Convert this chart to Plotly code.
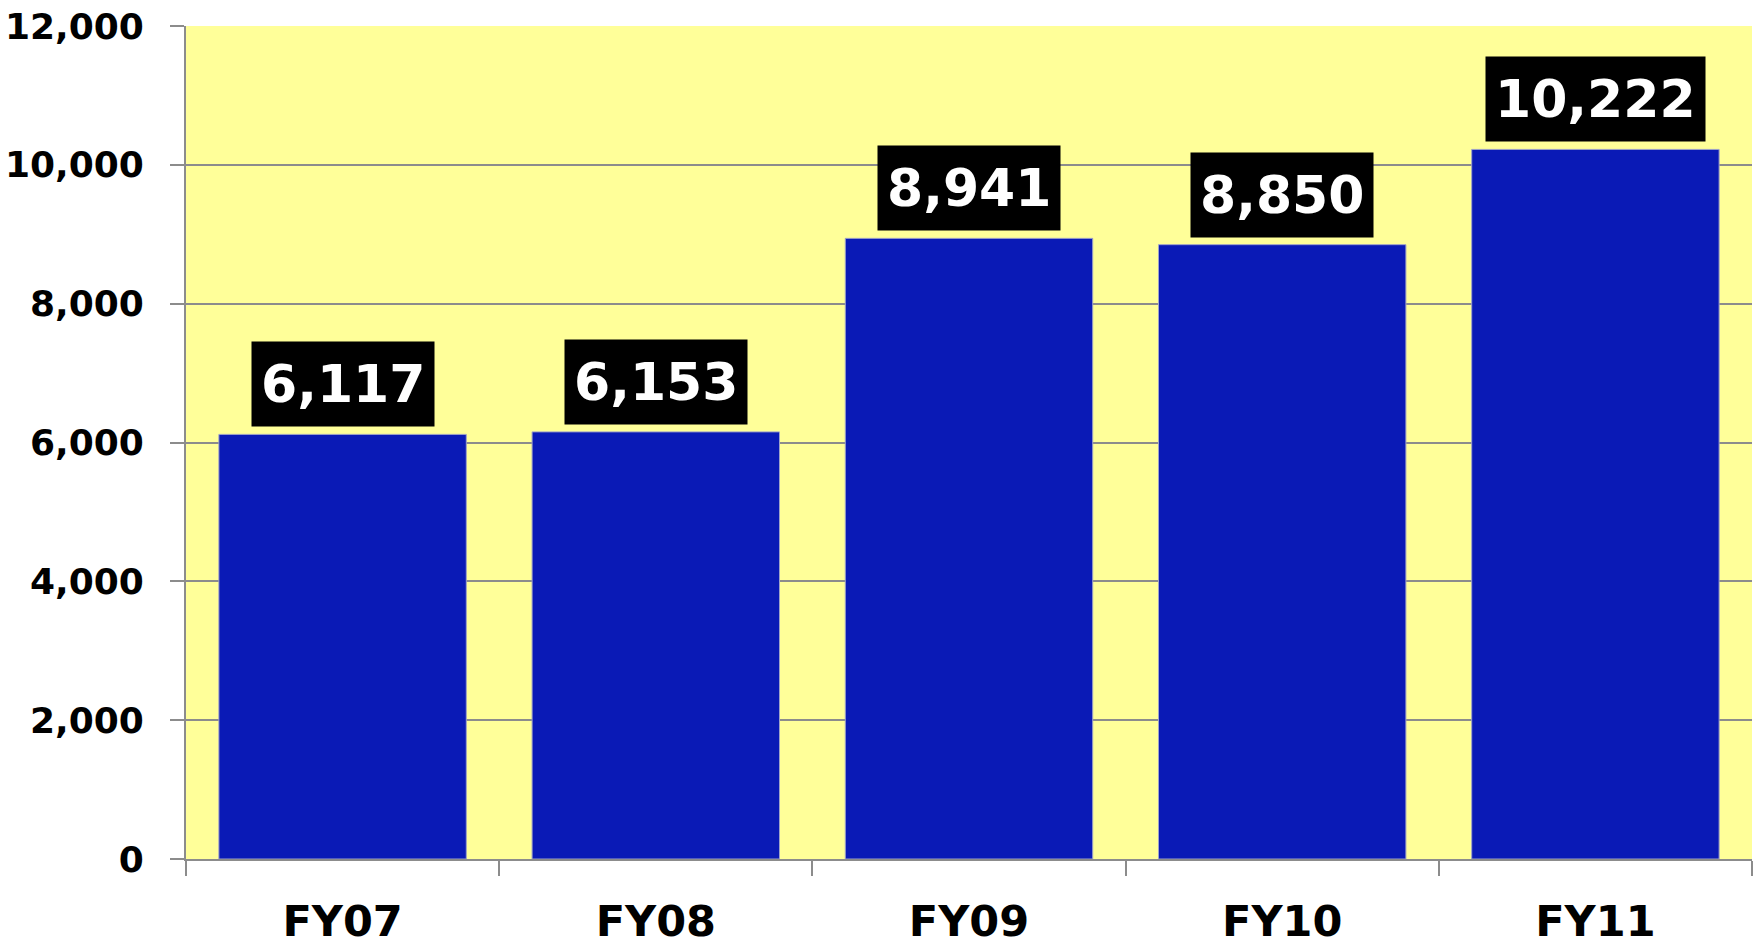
import plotly.graph_objects as go

categories = ["FY07", "FY08", "FY09", "FY10", "FY11"]
values = [6117, 6153, 8941, 8850, 10222]
y_ticks = [0, 2000, 4000, 6000, 8000, 10000, 12000]
y_tick_labels = ["0", "2,000", "4,000", "6,000", "8,000", "10,000", "12,000"]

FONT = "DejaVu Sans"

fig = go.Figure()
fig.add_trace(go.Bar(
    x=categories, y=values,
    marker=dict(color="#0A1AB6", line=dict(color="#9fa3c8", width=1)),
    hoverinfo="x+y",
))

for c, v in zip(categories, values):
    fig.add_annotation(
        x=c, y=v, xref="x", yref="y",
        text=f"<b>{v:,}</b>",
        showarrow=False, yanchor="bottom", xanchor="center",
        yshift=7, bgcolor="#000000", borderpad=9, height=66,
        font=dict(family=FONT, size=52, color="white"),
    )

fig.update_layout(
    width=1753, height=935,
    margin=dict(l=178, r=9, t=18, b=84, autoexpand=False),
    paper_bgcolor="white",
    plot_bgcolor="#FFFF99",
    bargap=0.21,
    showlegend=False,
    font=dict(family=FONT, color="black"),
)
fig.update_xaxes(
    type="category", automargin=False,
    showline=True, linecolor="#8c8c8c", linewidth=2,
    ticks="outside", tickson="boundaries", ticklen=15, tickwidth=2, tickcolor="#8c8c8c",
    tickfont=dict(family=FONT, size=43, color="black", weight="bold"),
    ticklabelstandoff=23, ticklabeloverflow="allow",
    showgrid=False,
)
fig.update_yaxes(
    range=[0, 12000], automargin=False,
    tickvals=y_ticks, ticktext=y_tick_labels,
    showline=True, linecolor="#8c8c8c", linewidth=2,
    ticks="outside", ticklen=14, tickwidth=2, tickcolor="#8c8c8c",
    showgrid=True, gridcolor="#8c8c8c", gridwidth=2,
    tickfont=dict(family=FONT, size=36, color="black", weight="bold"),
    ticklabelstandoff=19, ticklabeloverflow="allow",
    zeroline=False,
)

fig.write_html("out.html")
